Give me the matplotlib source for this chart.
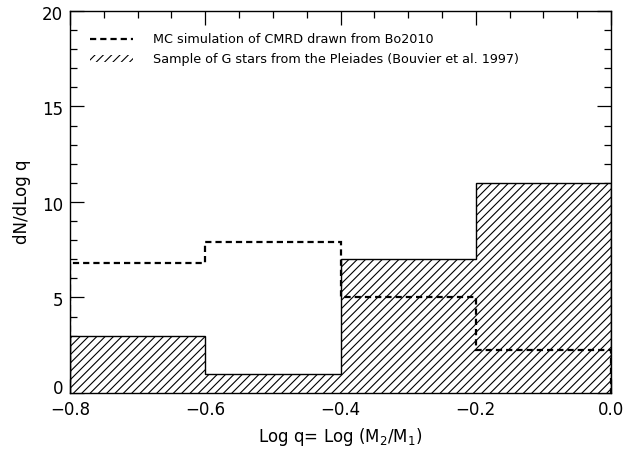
import numpy as np
import matplotlib
matplotlib.use('Agg')
import matplotlib.pyplot as plt
import matplotlib.transforms as mtransforms
from matplotlib.patches import Patch
from matplotlib.lines import Line2D

# bin edges in log q
bin_edges = [-0.8, -0.6, -0.4, -0.2, 0.0]
# Pleiades G stars (Bouvier et al. 1997), hatched histogram
pleiades_counts = [3, 1, 7, 11]
# MC simulation of CMRD drawn from Bo2010, dashed histogram
mc_counts = [6.8, 7.9, 5.05, 2.25]

x_ticks = [-0.8, -0.6, -0.4, -0.2, 0.0]
x_tick_labels = ['\u22120.8', '\u22120.6', '\u22120.4', '\u22120.2', '0.0']
y_ticks = [0, 5, 10, 15, 20]

plt.rcParams['font.family'] = ['DejaVu Sans']
plt.rcParams['hatch.linewidth'] = 0.8

DASH = (0, (2.8, 1.8))

fig = plt.figure(figsize=(6.28, 4.5), dpi=100)
ax = fig.add_axes([0.1115, 0.1267, 0.8615, 0.849])

# hatched step histogram (outline = steps + baseline)
ax.stairs(pleiades_counts, bin_edges, baseline=0, fill=True, facecolor='white',
          edgecolor='black', hatch='////', linewidth=1.0, zorder=2)
# dashed MC histogram
ax.stairs(mc_counts, bin_edges, baseline=0, color='black', linestyle=DASH,
          linewidth=1.6, zorder=3)

ax.set_xlim(-0.8, 0.0)
ax.set_ylim(0, 20)
ax.set_xticks(x_ticks)
ax.set_xticklabels(x_tick_labels)
ax.set_yticks(y_ticks)
ax.set_xticks(np.arange(-0.8, 0.001, 0.05), minor=True)
ax.set_yticks(np.arange(0, 20.01, 1), minor=True)
ax.tick_params(which='both', direction='in', top=True, right=True, labelsize=12, colors='black')
ax.tick_params(which='major', length=10, width=0.9)
ax.tick_params(which='minor', length=5, width=0.9)
ax.tick_params(axis='x', which='major', pad=6)
ax.tick_params(axis='y', which='major', pad=5)
for s in ax.spines.values():
    s.set_linewidth(1.0)

# IDL-style: y labels sit a bit below their ticks, the bottom one lifted up
fig.canvas.draw()
for lab, tv in zip(ax.get_yticklabels(), ax.get_yticks()):
    dy = 6 if tv == 0 else -2
    shift = mtransforms.ScaledTranslation(0, dy / 100, fig.dpi_scale_trans)
    lab.set_transform(lab.get_transform() + shift)

ax.set_xlabel('Log q= Log (M$_2$/M$_1$)', fontsize=12, labelpad=5)
ax.set_ylabel('dN/dLog q', fontsize=12, labelpad=8)

handles = [
    Line2D([], [], color='black', linestyle=DASH, linewidth=1.6),
    Patch(facecolor='white', edgecolor='black', hatch='////', linewidth=0),
]
labels = ['MC simulation of CMRD drawn from Bo2010',
          'Sample of G stars from the Pleiades (Bouvier et al. 1997)']
ax.legend(handles, labels, loc='upper left', frameon=False, fontsize=9.2,
          handlelength=3.4, handleheight=0.55, handletextpad=1.5,
          borderpad=0, borderaxespad=0, labelspacing=0.55,
          bbox_to_anchor=(0.037, 0.942))

fig.savefig('out.png', dpi=100)
